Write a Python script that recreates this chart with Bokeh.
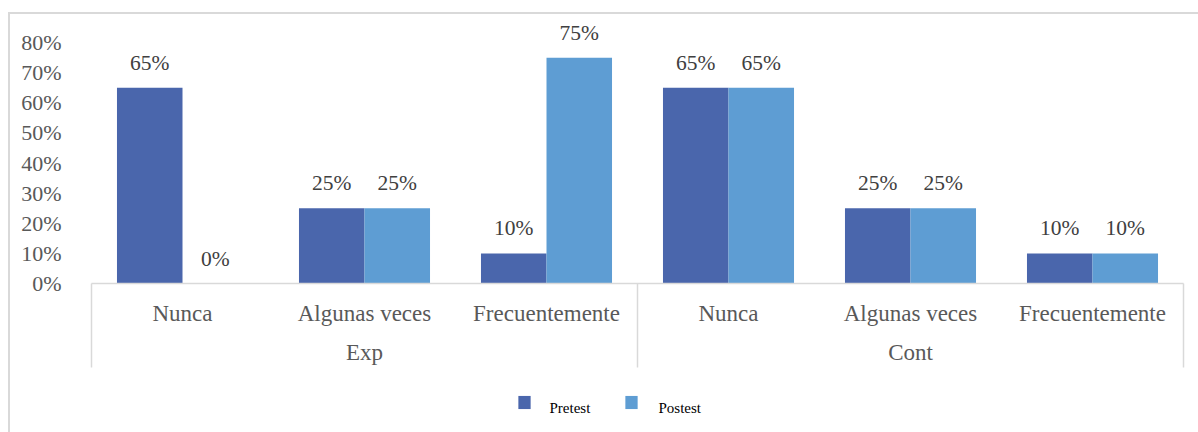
from bokeh.plotting import figure
from bokeh.models import (FactorRange, Range1d, FixedTicker, PrintfTickFormatter,
                          ColumnDataSource)
from bokeh.transform import dodge
from bokeh.core.properties import value
from bokeh.embed import file_html
from bokeh.resources import INLINE

# --- data ---------------------------------------------------------------
groups = ["Exp", "Cont"]
levels = ["Nunca", "Algunas veces", "Frecuentemente"]
pretest = [65, 25, 10, 65, 25, 10]
postest = [0, 25, 75, 65, 25, 10]
y_ticks = [0, 10, 20, 30, 40, 50, 60, 70, 80]
series_names = ["Pretest", "Postest"]

factors = [(g, lv) for g in groups for lv in levels]

src = ColumnDataSource(dict(
    x=factors,
    pre=pretest,
    post=postest,
    pre_lbl=[f"{v}%" for v in pretest],
    post_lbl=[f"{v}%" for v in postest],
))

SERIF = "Liberation Serif"
PRE_COLOR = "#4a66ac"
POST_COLOR = "#5e9dd3"
GRID_GRAY = "#d9d9d9"
COLORS = [PRE_COLOR, POST_COLOR]

FRAME_W, FRAME_H = 1092, 265
Y_MAX = 88
x_range = FactorRange(*factors, factor_padding=0, group_padding=0, range_padding=0)
n_slots = len(factors)
px_x = FRAME_W / n_slots          # pixels per category slot
px_y = FRAME_H / Y_MAX            # pixels per percentage point

p = figure(x_range=x_range, y_range=Range1d(0, Y_MAX),
           frame_width=FRAME_W, frame_height=FRAME_H,
           min_border_left=81, min_border_right=15, min_border_top=4,
           min_border_bottom=149,
           output_backend="svg", toolbar_location=None)
p.styles = {"margin-left": "8px", "margin-top": "12px",
            "border-top": f"2px solid {GRID_GRAY}",
            "border-left": f"2px solid {GRID_GRAY}"}

p.outline_line_color = None
p.xgrid.grid_line_color = None
p.ygrid.grid_line_color = None
p.background_fill_color = "white"
p.border_fill_color = "white"

# bars
bw = 0.36
p.vbar(x=dodge("x", -bw / 2, range=p.x_range), top="pre", width=bw,
       source=src, fill_color=PRE_COLOR, line_color=None)
p.vbar(x=dodge("x", bw / 2, range=p.x_range), top="post", width=bw,
       source=src, fill_color=POST_COLOR, line_color=None)

# value labels
for col, lbl, off in (("pre", "pre_lbl", -bw / 2), ("post", "post_lbl", bw / 2)):
    p.text(x=dodge("x", off, range=p.x_range), y=col, text=lbl, source=src,
           text_align="center", text_baseline="middle", y_offset=-25,
           text_font=value(SERIF), text_font_size="21.5px", text_color="#404040")

# y axis: labels only
p.yaxis.ticker = FixedTicker(ticks=y_ticks)
p.yaxis.formatter = PrintfTickFormatter(format="%d%%")
p.yaxis.axis_line_color = None
p.yaxis.major_tick_line_color = None
p.yaxis.minor_tick_line_color = None
p.yaxis.major_label_standoff = 24
p.yaxis.major_label_text_font = SERIF
p.yaxis.major_label_text_font_size = "22px"
p.yaxis.major_label_text_color = "#595959"

# category axis
xa = p.xaxis[0]
xa.axis_line_color = GRID_GRAY
xa.axis_line_width = 1.5
xa.major_tick_line_color = None
xa.minor_tick_line_color = None
xa.separator_line_color = None
xa.major_label_standoff = 11
xa.major_label_text_font = SERIF
xa.major_label_text_font_size = "23px"
xa.major_label_text_color = "#595959"
xa.group_text_font = SERIF
xa.group_text_font_size = "23px"
xa.group_text_color = "#595959"
xa.group_text_font_style = "normal"
xa.major_label_orientation = "horizontal"

# bracket lines framing the two groups of the category axis
n_sub = len(levels)
edges = [i * n_sub for i in range(len(groups) + 1)]
p.segment(x0=edges, y0=[0] * len(edges), x1=edges, y1=[-84 / px_y] * len(edges),
          line_color=GRID_GRAY, line_width=1.5, level="overlay")

# legend row under the category axis (swatches + labels), centred on the frame
centre = n_slots / 2
sq_dx = [-113, -6]                 # swatch centres, px from frame centre
lbl_dx = [-88, 21]                 # label starts, px from frame centre
leg_y = -119 / px_y                # 119 px below the baseline
p.text(x=[centre + d / px_x for d in sq_dx], y=[leg_y] * 2, text=[" ", " "],
       text_align="center", text_baseline="middle", text_font_size="1px",
       padding=6, background_fill_color=COLORS, border_line_color=None,
       level="overlay")
p.text(x=[centre + d / px_x for d in lbl_dx], y=[leg_y] * 2, text=series_names,
       text_align="left", text_baseline="middle", y_offset=5,
       text_font=value(SERIF), text_font_size="15px", text_color="#000000",
       level="overlay")

open("out.html", "w").write(file_html(p, INLINE))
